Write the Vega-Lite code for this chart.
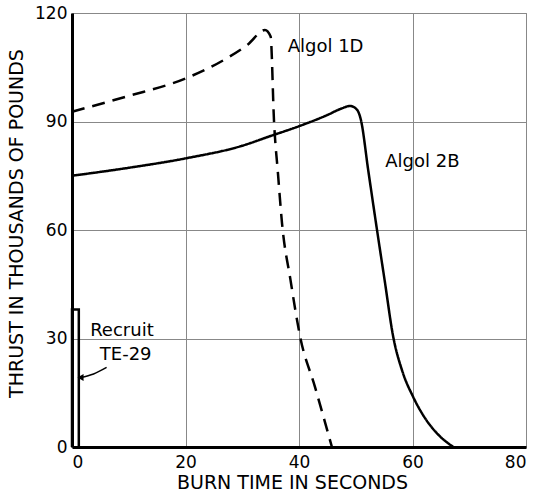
{
  "$schema": "https://vega.github.io/schema/vega-lite/v6.json",
  "width": 454,
  "height": 434,
  "autosize": {"type": "none"},
  "padding": {"left": 72, "top": 13, "right": 14, "bottom": 47},
  "background": "white",
  "config": {
    "font": "DejaVu Sans",
    "view": {"stroke": "#888", "strokeWidth": 1}
  },
  "datasets": {
    "curves": [
      {"series": "Algol 2B", "t": 0, "v": 75},
      {"series": "Algol 2B", "t": 10, "v": 77.2},
      {"series": "Algol 2B", "t": 20, "v": 79.8},
      {"series": "Algol 2B", "t": 30, "v": 83.3},
      {"series": "Algol 2B", "t": 35, "v": 86},
      {"series": "Algol 2B", "t": 40, "v": 88.7},
      {"series": "Algol 2B", "t": 45, "v": 91.8},
      {"series": "Algol 2B", "t": 47.5, "v": 93.6},
      {"series": "Algol 2B", "t": 49, "v": 94.3},
      {"series": "Algol 2B", "t": 50.2, "v": 93.3},
      {"series": "Algol 2B", "t": 50.9, "v": 90.5},
      {"series": "Algol 2B", "t": 52.2, "v": 76.5},
      {"series": "Algol 2B", "t": 53.7, "v": 60.5},
      {"series": "Algol 2B", "t": 55.1, "v": 46},
      {"series": "Algol 2B", "t": 56.6, "v": 30.5},
      {"series": "Algol 2B", "t": 58.2, "v": 21},
      {"series": "Algol 2B", "t": 60.1, "v": 13.9},
      {"series": "Algol 2B", "t": 62.2, "v": 8},
      {"series": "Algol 2B", "t": 64.3, "v": 3.8},
      {"series": "Algol 2B", "t": 67.2, "v": 0},
      {"series": "Algol 1D", "t": 0, "v": 92.7},
      {"series": "Algol 1D", "t": 9.6, "v": 96.9},
      {"series": "Algol 1D", "t": 20, "v": 101.9},
      {"series": "Algol 1D", "t": 27.3, "v": 107.5},
      {"series": "Algol 1D", "t": 31, "v": 111.3},
      {"series": "Algol 1D", "t": 34, "v": 115.3},
      {"series": "Algol 1D", "t": 35, "v": 113.5},
      {"series": "Algol 1D", "t": 35.6, "v": 90},
      {"series": "Algol 1D", "t": 36.3, "v": 75.5},
      {"series": "Algol 1D", "t": 37, "v": 62},
      {"series": "Algol 1D", "t": 38.5, "v": 46.2},
      {"series": "Algol 1D", "t": 40.2, "v": 30.5},
      {"series": "Algol 1D", "t": 42.8, "v": 16.7},
      {"series": "Algol 1D", "t": 45.8, "v": 0}
    ],
    "recruit": [
      {"t": 0, "v": 0},
      {"t": 0, "v": 38},
      {"t": 1.2, "v": 38},
      {"t": 1.2, "v": 0}
    ],
    "arrow": [
      {"t": 6.1, "v": 22.0},
      {"t": 3.8, "v": 20.2},
      {"t": 1.5, "v": 19.2}
    ],
    "labels": [
      {"t": 38, "v": 110.5, "label": "Algol 1D"},
      {"t": 55.2, "v": 78.9, "label": "Algol 2B"},
      {"t": 3.2, "v": 32.1, "label": "Recruit"},
      {"t": 4.9, "v": 25.4, "label": "TE-29"}
    ]
  },
  "layer": [
    {
      "data": {"name": "curves"},
      "mark": {"type": "line", "color": "black", "strokeWidth": 2.5, "interpolate": "monotone"},
      "encoding": {
        "x": {
          "field": "t", "type": "quantitative",
          "scale": {"domain": [0, 80], "nice": false},
          "axis": {
            "values": [0, 20, 40, 60, 80],
            "title": "BURN TIME IN SECONDS",
            "titleFont": "DejaVu Sans", "titleFontSize": 19, "titleFontWeight": "normal", "titleColor": "black",
            "titleX": 220, "titleY": 41, "titleBaseline": "alphabetic", "titleAlign": "center",
            "labelFont": "DejaVu Sans", "labelFontSize": 17, "labelColor": "black",
            "labelBaseline": "alphabetic", "labelPadding": 20,
            "tickSize": 0,
            "domainColor": "black", "domainWidth": 3,
            "grid": true, "gridColor": "#888", "gridWidth": 1, "gridOpacity": 1
          }
        },
        "y": {
          "field": "v", "type": "quantitative",
          "scale": {"domain": [0, 120], "nice": false},
          "axis": {
            "values": [0, 30, 60, 90, 120],
            "title": "THRUST IN THOUSANDS OF POUNDS",
            "titleFont": "DejaVu Sans", "titleFontSize": 19, "titleFontWeight": "normal", "titleColor": "black",
            "titleY": 210, "titlePadding": 8,
            "labelFont": "DejaVu Sans", "labelFontSize": 17, "labelColor": "black", "labelPadding": 5,
            "tickSize": 0,
            "domainColor": "black", "domainWidth": 3,
            "grid": true, "gridColor": "#888", "gridWidth": 1, "gridOpacity": 1
          }
        },
        "strokeDash": {
          "field": "series", "type": "nominal",
          "scale": {"domain": ["Algol 2B", "Algol 1D"], "range": [[1, 0], [13, 8]]},
          "legend": null
        }
      }
    },
    {
      "data": {"name": "recruit"},
      "mark": {"type": "line", "color": "black", "strokeWidth": 2.5, "interpolate": "linear"},
      "encoding": {
        "x": {"field": "t", "type": "quantitative"},
        "y": {"field": "v", "type": "quantitative"},
        "order": {"field": "t", "type": "quantitative", "sort": "ascending"}
      }
    },
    {
      "data": {"name": "arrow"},
      "mark": {"type": "line", "color": "black", "strokeWidth": 1.5, "interpolate": "monotone"},
      "encoding": {
        "x": {"field": "t", "type": "quantitative"},
        "y": {"field": "v", "type": "quantitative"}
      }
    },
    {
      "data": {"name": "arrow"},
      "transform": [{"filter": "datum.t < 2"}],
      "mark": {"type": "point", "shape": "triangle-left", "filled": true, "color": "black", "size": 50, "opacity": 1},
      "encoding": {
        "x": {"field": "t", "type": "quantitative"},
        "y": {"field": "v", "type": "quantitative"}
      }
    },
    {
      "data": {"name": "labels"},
      "mark": {"type": "text", "align": "left", "baseline": "middle", "fontSize": 18, "color": "black", "font": "DejaVu Sans"},
      "encoding": {
        "x": {"field": "t", "type": "quantitative"},
        "y": {"field": "v", "type": "quantitative"},
        "text": {"field": "label"}
      }
    }
  ]
}
